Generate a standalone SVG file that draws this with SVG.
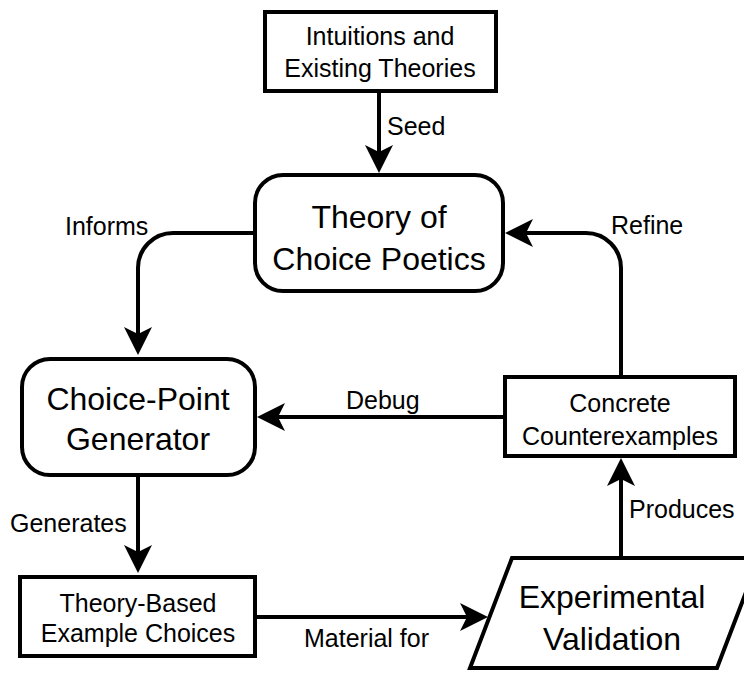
<svg xmlns="http://www.w3.org/2000/svg" width="744" height="673" viewBox="0 0 744 673">
<style>
  .box{fill:#fff;stroke:#000;stroke-width:4}
  .edge{fill:none;stroke:#000;stroke-width:4}
  .t{font-family:"Liberation Sans",Arial,Helvetica,sans-serif;fill:#000;text-anchor:middle}
  .s{font-size:25px}
  .l{font-size:32px}
  .lbl{font-family:"Liberation Sans",Arial,Helvetica,sans-serif;fill:#000;font-size:25px}
</style>
<defs>
  <marker id="arr" markerUnits="userSpaceOnUse" markerWidth="28" markerHeight="28" viewBox="0 0 28 28" refX="8" refY="14" orient="auto">
    <path d="M0,0 L28,14 L0,28 L7,14 Z" fill="#000"/>
  </marker>
</defs>
<rect width="744" height="673" fill="#fff"/>
<g id="connectors">
  <path class="edge" d="M379,93 V153" marker-end="url(#arr)"/>
  <path class="edge" d="M255,233 H173 A35,35 0 0 0 138,268 V335" marker-end="url(#arr)"/>
  <path class="edge" d="M503,417 H277" marker-end="url(#arr)"/>
  <path class="edge" d="M621,375 V268 A35,35 0 0 0 586,233 H525" marker-end="url(#arr)"/>
  <path class="edge" d="M138,477 V553" marker-end="url(#arr)"/>
  <path class="edge" d="M257,617 H468" marker-end="url(#arr)"/>
  <path class="edge" d="M621,558 V478" marker-end="url(#arr)"/>
  <text class="lbl" x="387" y="135">Seed</text>
  <text class="lbl" x="65" y="235">Informs</text>
  <text class="lbl" x="611" y="234">Refine</text>
  <text class="lbl" x="346" y="409">Debug</text>
  <text class="lbl" x="10" y="532">Generates</text>
  <text class="lbl" x="629" y="518">Produces</text>
  <text class="lbl" x="304" y="647">Material for</text>
</g>
<g id="intuitions">
  <rect class="box" x="265" y="12" width="231" height="79"/>
  <text class="t s" x="380" y="45">Intuitions and</text>
  <text class="t s" x="380" y="77">Existing Theories</text>
</g>
<g id="theory">
  <rect class="box" x="255" y="175" width="248" height="116" rx="28"/>
  <text class="t l" x="379" y="228">Theory of</text>
  <text class="t l" x="379" y="270">Choice Poetics</text>
</g>
<g id="generator">
  <rect class="box" x="22" y="359" width="233" height="116" rx="28"/>
  <text class="t l" x="138" y="410">Choice-Point</text>
  <text class="t l" x="138" y="450">Generator</text>
</g>
<g id="counterexamples">
  <rect class="box" x="505" y="377" width="230" height="79"/>
  <text class="t s" x="620" y="412">Concrete</text>
  <text class="t s" x="620" y="445">Counterexamples</text>
</g>
<g id="examples">
  <rect class="box" x="20" y="577" width="235" height="79"/>
  <text class="t s" x="138" y="612">Theory-Based</text>
  <text class="t s" x="138" y="642">Example Choices</text>
</g>
<g id="validation">
  <polygon class="box" points="512,558 759,558 717,668 470,668"/>
  <text class="t l" x="612" y="608">Experimental</text>
  <text class="t l" x="612" y="650">Validation</text>
</g>
</svg>
